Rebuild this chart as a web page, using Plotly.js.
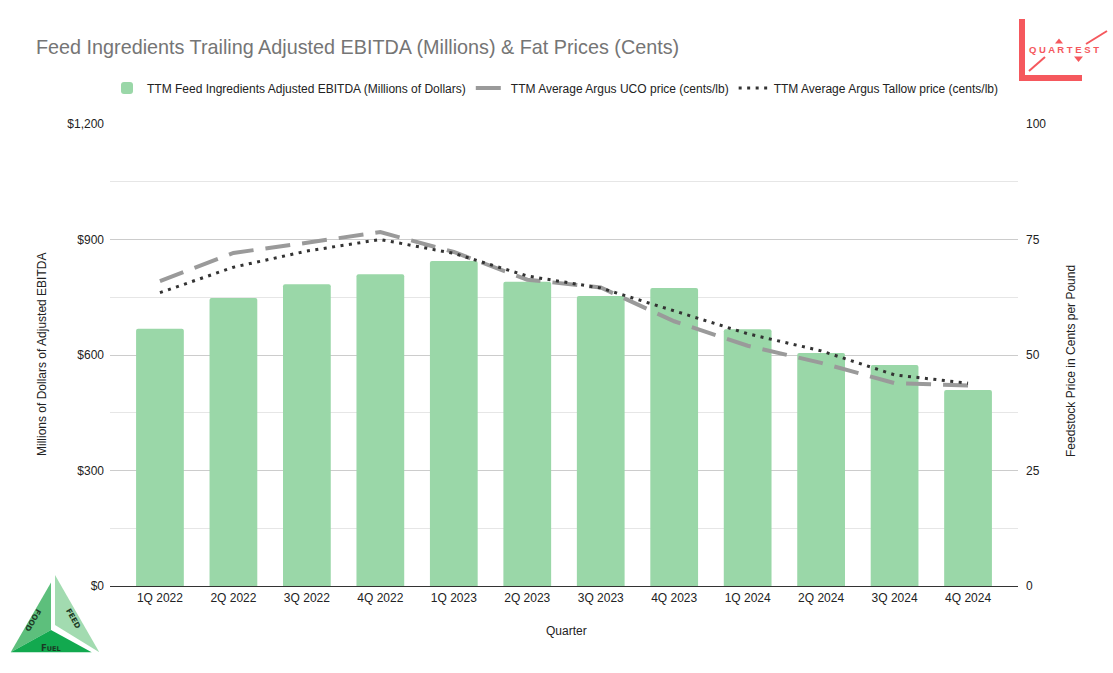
<!DOCTYPE html>
<html>
<head>
<meta charset="utf-8">
<script src="https://cdn.plot.ly/plotly-3.0.1.min.js"></script>
<style>html,body{margin:0;padding:0;background:#fff;}#chart{width:1113px;height:673px;}</style>
</head>
<body>
<div id="chart"></div>
<script>
var quarters = ["1Q 2022","2Q 2022","3Q 2022","4Q 2022","1Q 2023","2Q 2023","3Q 2023","4Q 2023","1Q 2024","2Q 2024","3Q 2024","4Q 2024"];
var ebitda = [668, 748, 784, 810, 844, 790, 753, 774, 667, 605, 574, 509];
var ucoPrice = [66.0, 72.1, 74.3, 76.6, 72.3, 66.3, 64.6, 57.3, 52.0, 48.3, 43.9, 43.4];
var tallowPrice = [63.5, 69.0, 72.5, 75.0, 72.0, 67.1, 64.5, 59.5, 54.6, 50.9, 45.7, 43.9];
var leftTickVals = [0, 300, 600, 900, 1200];
var leftTickText = ["$0", "$300", "$600", "$900", "$1,200"];
var rightTickVals = [0, 25, 50, 75, 100];

var W = 1113, H = 673, ML = 110, MR = 95, MT = 124, MB = 87;
var PW = W - ML - MR, PH = H - MT - MB;
function px(x){ return (x - ML) / PW; }
function py(y){ return (H - MB - y) / PH; }
function poly(pts){ return "M" + pts.map(function(p){ return px(p[0]) + "," + py(p[1]); }).join(" L") + " Z"; }

var FONT = "'Liberation Sans', Arial, sans-serif";
var RED = "#f5585d";

var traces = [
  {
    type: "bar", x: quarters, y: ebitda, name: "TTM Feed Ingredients Adjusted EBITDA (Millions of Dollars)",
    marker: {color: "#9ad7a8", cornerradius: 2}, width: 0.65, yaxis: "y", hoverinfo: "x+y"
  },
  {
    type: "scatter", mode: "lines", x: quarters, y: ucoPrice, name: "TTM Average Argus UCO price (cents/lb)",
    line: {color: "#9a9a9a", width: 4, dash: "25px,12px"}, yaxis: "y2"
  },
  {
    type: "scatter", mode: "lines", x: quarters, y: tallowPrice, name: "TTM Average Argus Tallow price (cents/lb)",
    line: {color: "#333333", width: 3, dash: "3px,5.5px"}, yaxis: "y2"
  }
];

var shapes = [
  // Quartest logo
  {type:"rect", xref:"paper", yref:"paper", x0:px(1019), x1:px(1025), y0:py(81), y1:py(19), fillcolor:RED, line:{width:0}, layer:"above"},
  {type:"rect", xref:"paper", yref:"paper", x0:px(1019), x1:px(1082), y0:py(81), y1:py(75), fillcolor:RED, line:{width:0}, layer:"above"},
  {type:"line", xref:"paper", yref:"paper", x0:px(1029), y0:py(71), x1:px(1045), y1:py(57), line:{color:RED, width:2}},
  {type:"line", xref:"paper", yref:"paper", x0:px(1086), y0:py(44), x1:px(1107), y1:py(31), line:{color:RED, width:2}},
  {type:"path", xref:"paper", yref:"paper", path:poly([[1055,43.5],[1063,43.5],[1059,38.5]]), fillcolor:RED, line:{width:0}},
  {type:"path", xref:"paper", yref:"paper", path:poly([[1074,56.5],[1083,56.5],[1078.5,62]]), fillcolor:RED, line:{width:0}},
  // Food / Feed / Fuel logo
  {type:"path", xref:"paper", yref:"paper", path:poly([[10.7,652.3],[51,582.5],[51,630]]), fillcolor:"#5dbf7c", line:{width:0}},
  {type:"path", xref:"paper", yref:"paper", path:poly([[10.7,652.3],[91.7,652.3],[51,630]]), fillcolor:"#12a94f", line:{width:0}},
  {type:"path", xref:"paper", yref:"paper", path:poly([[55,575],[55,625],[99.3,652.3]]), fillcolor:"#a2dbb0", line:{width:0}}
];

var annotations = [
  {xref:"paper", yref:"paper", x:px(42), y:py(355), text:"Millions of Dollars of Adjusted EBITDA", textangle:-90, showarrow:false, font:{family:FONT, size:12, color:"#222"}, xanchor:"center", yanchor:"middle"},
  {xref:"paper", yref:"paper", x:px(1071), y:py(361), text:"Feedstock Price in Cents per Pound", textangle:-90, showarrow:false, font:{family:FONT, size:12, color:"#222"}, xanchor:"center", yanchor:"middle"},
  {xref:"paper", yref:"paper", x:px(566), y:py(631), text:"Quarter", showarrow:false, font:{family:FONT, size:12, color:"#222"}, xanchor:"center", yanchor:"middle"},
  {xref:"paper", yref:"paper", x:px(1064), y:py(50), text:"<b>Q U A R T E S T</b>", showarrow:false, font:{family:FONT, size:9.5, color:RED}, xanchor:"center", yanchor:"middle"},
  {xref:"paper", yref:"paper", x:px(33.5), y:py(620), text:"<b>FOOD</b>", textangle:120, showarrow:false, font:{family:"DejaVu Sans, sans-serif", size:7.5, color:"#1b3a25"}, xanchor:"center", yanchor:"middle"},
  {xref:"paper", yref:"paper", x:px(73.5), y:py(618), text:"<b>FEED</b>", textangle:60, showarrow:false, font:{family:"DejaVu Sans, sans-serif", size:7.5, color:"#1b3a25"}, xanchor:"center", yanchor:"middle"},
  {xref:"paper", yref:"paper", x:px(51), y:py(647.5), text:"<b>F<span style='font-size:6.5px'>UEL</span></b>", showarrow:false, font:{family:"DejaVu Sans, sans-serif", size:8.5, color:"#1b3a25"}, xanchor:"center", yanchor:"middle"}
];

var layout = {
  width: W, height: H,
  margin: {l: ML, r: MR, t: MT, b: MB, pad: 0},
  paper_bgcolor: "#ffffff", plot_bgcolor: "#ffffff",
  font: {family: FONT, size: 12, color: "#444"},
  title: {text: "Feed Ingredients Trailing Adjusted EBITDA (Millions) & Fat Prices (Cents)", x: 36/W, xref: "container", xanchor: "left", y: 1 - 47/H, yref: "container", yanchor: "middle", font: {family: FONT, size: 19.8, color: "#757575"}},
  showlegend: true,
  legend: {orientation: "h", x: px(555), xanchor: "center", y: py(88), yanchor: "middle", font: {family: FONT, size: 12, color: "#222"}, itemwidth: 30, tracegroupgap: 0, bgcolor: "rgba(0,0,0,0)"},
  bargap: 0.35,
  xaxis: {
    type: "category", range: [-0.68, 11.68], showgrid: false, showline: true, linecolor: "#333", linewidth: 1.3,
    ticks: "", tickfont: {family: FONT, size: 12, color: "#222"}, fixedrange: true, zeroline: false
  },
  yaxis: {
    range: [0, 1200], tickvals: leftTickVals, ticktext: leftTickText, showgrid: true, gridcolor: "#cccccc", gridwidth: 1,
    minor: {dtick: 150, tick0: 150, showgrid: true, gridcolor: "#e6e6e6", gridwidth: 1, ticks: ""},
    zeroline: false, showline: false, ticks: "", tickfont: {family: FONT, size: 12, color: "#222"}, ticklabelstandoff: 5, fixedrange: true
  },
  yaxis2: {
    range: [0, 100], tickvals: rightTickVals, overlaying: "y", side: "right", showgrid: false, zeroline: false, showline: false,
    ticks: "", tickfont: {family: FONT, size: 12, color: "#222"}, ticklabelstandoff: 7, fixedrange: true
  },
  shapes: shapes,
  annotations: annotations
};

Plotly.newPlot("chart", traces, layout, {displayModeBar: false, staticPlot: true});
</script>
</body>
</html>
